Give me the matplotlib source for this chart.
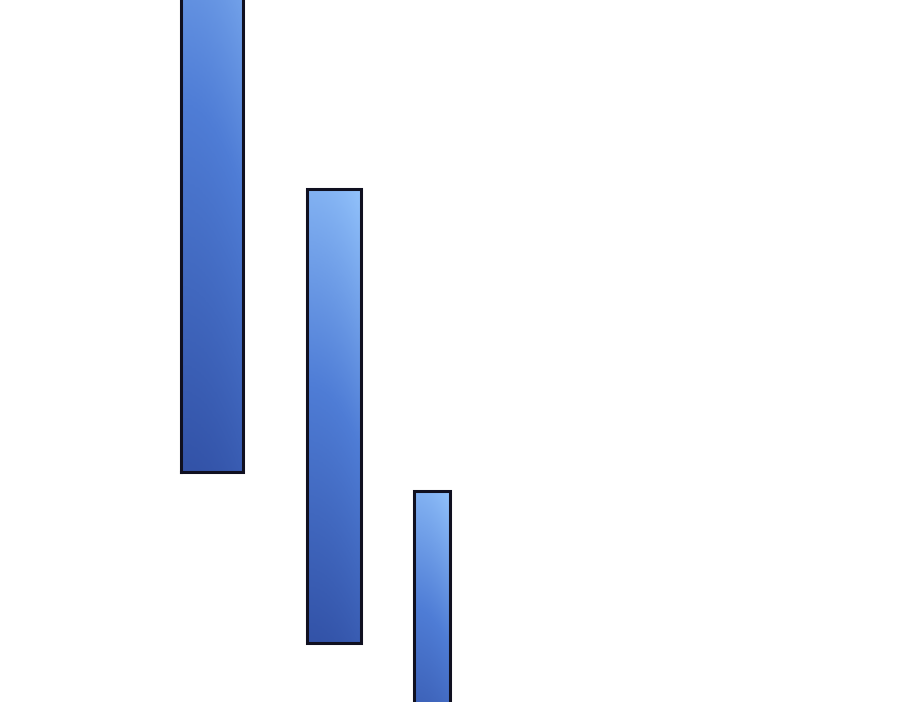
import numpy as np
import matplotlib
matplotlib.use("Agg")
import matplotlib.pyplot as plt
from matplotlib.colors import LinearSegmentedColormap

# Data: floating (waterfall) bar start/end values
categories = ["A", "B", "C"]
bar_bottoms = [230, 59, -60]
bar_tops = [880, 513, 211]

# Layout / style
x_pos = [212, 333.5, 431.5]
widths = [62, 54, 36]

fig = plt.figure(figsize=(9, 7.02), dpi=100)
ax = fig.add_axes([0, 0, 1, 1])
ax.set_xlim(0, 900)
ax.set_ylim(0, 702)
ax.axis("off")

cmap = LinearSegmentedColormap.from_list("g", ["#3353a8", "#4f7dd6", "#92c2fb"])

for x, w, b, t in zip(x_pos, widths, bar_bottoms, bar_tops):
    bars = ax.bar(x, t - b, width=w, bottom=b, facecolor="none",
                  edgecolor="#101020", linewidth=2.2, zorder=3)
    patch = bars[0]
    patch.set_joinstyle("miter")
    patch.set_capstyle("projecting")
    ny, nx = 200, 40
    vy = np.linspace(0, 1, ny)[:, None]
    vx = np.linspace(0, 1, nx)[None, :]
    grad = 0.88 * vy + 0.12 * vx ** 2
    im = ax.imshow(grad, cmap=cmap, vmin=0, vmax=1, origin="lower",
                   extent=[x - w / 2, x + w / 2, b, t], aspect="auto",
                   zorder=2, interpolation="bilinear")
    im.set_clip_path(patch)

ax.set_xlim(0, 900)
ax.set_ylim(0, 702)
fig.savefig("out.png", dpi=100)
